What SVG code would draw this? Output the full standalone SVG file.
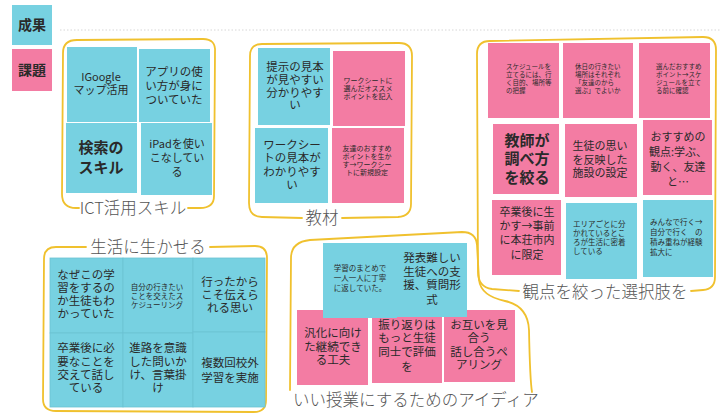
<svg xmlns="http://www.w3.org/2000/svg" width="720" height="416" viewBox="0 0 720 416">
<style>
.nb{fill:#77d1e1}
.np{fill:#f37ca3}
.cell{stroke:#6cc3d3;stroke-width:0.8}
.t{font-family:"Noto Sans CJK JP","Noto Sans",sans-serif;fill:#2a2a2a;text-anchor:middle}
.s{text-anchor:start}
.f65{font-size:6.5px}
.f7{font-size:7px}
.f75{font-size:7.5px}
.f11{font-size:11px}
.f115{font-size:11.5px}
.big{font-size:15px;font-weight:700}
.ol{fill:none;stroke:#f0c12e;stroke-width:1.8;stroke-linecap:round;stroke-linejoin:round}
.lbl{font-family:"Noto Sans CJK JP","Noto Sans",sans-serif;font-size:16.5px;fill:#555;font-weight:300}
</style>
<rect width="720" height="416" fill="#ffffff"/>
<line x1="60" y1="30" x2="720" y2="30" stroke="#d6d6d6" stroke-width="1" stroke-dasharray="1.5 2"/>

<g id="legend">
  <g id="legend-seika"><rect class="nb" x="12" y="5" width="40" height="40"/><text class="t" x="32" y="30" font-size="14" font-weight="700">成果</text></g>
  <g id="legend-kadai"><rect class="np" x="12" y="49" width="40" height="42"/><text class="t" x="32" y="75" font-size="14" font-weight="700">課題</text></g>
</g>

<g id="group-ict">
  <path class="ol" d="M 188,208 L 200,208 Q 214,208 214,196 L 215,52 Q 216,39 203,39 L 77,40 Q 63,40 63,53 L 62,194 Q 62,208 76,208 L 79,208"/>
  <text class="lbl" x="133" y="214" text-anchor="middle">ICT活用スキル</text>
  <g id="n-google"><rect class="nb" x="67" y="47" width="70" height="75"/><text class="t f11"><tspan x="101" y="81">IGoogle</tspan><tspan x="101" y="94">マップ活用</tspan></text></g>
  <g id="n-app"><rect class="nb" x="139" y="49" width="71" height="73"/><text class="t f115"><tspan x="174" y="76">アプリの使</tspan><tspan x="174" y="90">い方が身に</tspan><tspan x="174" y="104">ついていた</tspan></text></g>
  <g id="n-kensaku"><rect class="nb" x="66" y="123" width="71" height="70"/><text class="t big"><tspan x="101" y="153">検索の</tspan><tspan x="101" y="173">スキル</tspan></text></g>
  <g id="n-ipad"><rect class="nb" x="141" y="123" width="71" height="72"/><text class="t f11"><tspan x="177" y="148">iPadを使い</tspan><tspan x="177" y="162">こなしてい</tspan><tspan x="177" y="176">る</tspan></text></g>
</g>

<g id="group-kyozai">
  <path class="ol" d="M 342,218 L 398,217 Q 411,216 411,204 L 412,56 Q 412,43 399,43 L 262,44 Q 250,44 250,56 L 249,203 Q 249,217 262,217 L 302,218"/>
  <text class="lbl" x="322" y="224" text-anchor="middle">教材</text>
  <g id="n-teiji"><rect class="nb" x="258" y="48" width="72" height="77"/><text class="t f115"><tspan x="295" y="71">提示の見本</tspan><tspan x="295" y="84">が見やすい</tspan><tspan x="295" y="97">分かりやす</tspan><tspan x="295" y="109">い</tspan></text></g>
  <g id="n-ws-point"><rect class="np" x="333" y="51" width="72" height="75"/><text class="t f7"><tspan x="368" y="83">ワークシートに</tspan><tspan x="368" y="91">選んだオススメ</tspan><tspan x="368" y="99">ポイントを記入</tspan></text></g>
  <g id="n-ws-mihon"><rect class="nb" x="255" y="128" width="73" height="75"/><text class="t f115"><tspan x="292" y="149">ワークシー</tspan><tspan x="292" y="162">トの見本が</tspan><tspan x="292" y="176">わかりやす</tspan><tspan x="292" y="189">い</tspan></text></g>
  <g id="n-tomodachi"><rect class="np" x="332" y="128" width="72" height="75"/><text class="t f7"><tspan x="367" y="151">友達のおすすめ</tspan><tspan x="367" y="159">ポイントを生か</tspan><tspan x="367" y="167">す→ワークシー</tspan><tspan x="367" y="175">トに新規設定</tspan></text></g>
</g>

<g id="group-kanten">
  <path class="ol" d="M 691,291 L 703,290 Q 715,289 715,277 L 716,50 Q 716,37 703,37 L 490,41 Q 477,41 477,54 L 478,272 Q 478,287 492,289 L 519,291"/>
  <text class="lbl" x="605" y="298" text-anchor="middle">観点を絞った選択肢を</text>
  <g id="n-schedule"><rect class="np" x="488" y="43" width="71" height="75"/><text class="t s f65"><tspan x="506" y="68.5">スケジュールを</tspan><tspan x="506" y="76.5">立てるには、行</tspan><tspan x="506" y="84.5">く目的、場所等</tspan><tspan x="506" y="92.5">の把握</tspan></text></g>
  <g id="n-kyujitsu"><rect class="np" x="563" y="43" width="70" height="75"/><text class="t s f65"><tspan x="575" y="68.5">休日の行きたい</tspan><tspan x="575" y="76.5">場所はそれぞれ</tspan><tspan x="575" y="84.5">「友達のから</tspan><tspan x="575" y="92.5">選ぶ」でよいか</tspan></text></g>
  <g id="n-eranda"><rect class="np" x="639" y="43" width="71" height="75"/><text class="t s f65"><tspan x="656" y="68.5">選んだおすすめ</tspan><tspan x="656" y="76.5">ポイント→スケ</tspan><tspan x="656" y="84.5">ジュールを立て</tspan><tspan x="656" y="92.5">る前に確認</tspan></text></g>
  <g id="n-kyoshi"><rect class="np" x="493" y="124" width="66" height="70"/><text class="t big"><tspan x="527" y="146">教師が</tspan><tspan x="527" y="164">調べ方</tspan><tspan x="527" y="183">を絞る</tspan></text></g>
  <g id="n-seito-omoi"><rect class="np" x="565" y="124" width="72" height="73"/><text class="t f11"><tspan x="600" y="150">生徒の思い</tspan><tspan x="600" y="164">を反映した</tspan><tspan x="600" y="177">施設の設定</tspan></text></g>
  <g id="n-osusume"><rect class="np" x="643" y="120" width="69" height="75"/><text class="t f11"><tspan x="678" y="141">おすすめの</tspan><tspan x="678" y="156">観点:学ぶ、</tspan><tspan x="678" y="171">動く、友達</tspan><tspan x="678" y="186">と…</tspan></text></g>
  <g id="n-sotsugyo-ikasu"><rect class="np" x="492" y="200" width="69" height="75"/><text class="t f11"><tspan x="527" y="216">卒業後に生</tspan><tspan x="527" y="230">かす→事前</tspan><tspan x="527" y="244">に本荘市内</tspan><tspan x="527" y="259">に限定</tspan></text></g>
  <g id="n-area"><rect class="nb" x="566" y="203" width="71" height="76"/><text class="t s f75"><tspan x="573" y="227">エリアごとに分</tspan><tspan x="573" y="236">かれているとこ</tspan><tspan x="573" y="245">ろが生活に密着</tspan><tspan x="573" y="254">している</tspan></text></g>
  <g id="n-minna"><rect class="nb" x="643" y="200" width="70" height="77"/><text class="t s f75"><tspan x="650" y="225">みんなで行く→</tspan><tspan x="650" y="235">自分で行く　の</tspan><tspan x="650" y="245">積み重ねが経験</tspan><tspan x="650" y="255">拡大に</tspan></text></g>
</g>

<g id="group-seikatsu">
  <path class="ol" d="M 210,247 L 255,246 Q 267,246 267,258 L 266,400 Q 266,412 254,412 L 56,411 Q 43,411 43,399 L 44,259 Q 44,247 56,247 L 86,247"/>
  <text class="lbl" x="148" y="253" text-anchor="middle">生活に生かせる</text>
  <g id="n-naze"><rect class="nb cell" x="50" y="258" width="73" height="75"/><text class="t f115"><tspan x="86" y="279">なぜこの学</tspan><tspan x="86" y="292">習をするの</tspan><tspan x="86" y="305">か生徒もわ</tspan><tspan x="86" y="318">かっていた</tspan></text></g>
  <g id="n-jibun"><rect class="nb cell" x="123" y="258" width="70" height="75"/><text class="t f75"><tspan x="157" y="290">自分の行きたい</tspan><tspan x="157" y="299">ことを交えたス</tspan><tspan x="157" y="308">ケジューリング</tspan></text></g>
  <g id="n-ittakara"><rect class="nb cell" x="193" y="258" width="72" height="74"/><text class="t f115"><tspan x="230" y="286">行ったから</tspan><tspan x="230" y="299">こそ伝えら</tspan><tspan x="230" y="312">れる思い</tspan></text></g>
  <g id="n-sotsugyo-hitsuyo"><rect class="nb cell" x="50" y="333" width="73" height="74"/><text class="t f115"><tspan x="86" y="352">卒業後に必</tspan><tspan x="86" y="366">要なことを</tspan><tspan x="86" y="379">交えて話し</tspan><tspan x="86" y="392">ている</tspan></text></g>
  <g id="n-shinro"><rect class="nb cell" x="123" y="333" width="70" height="74"/><text class="t f115"><tspan x="158" y="352">進路を意識</tspan><tspan x="158" y="366">した問いか</tspan><tspan x="158" y="379">け、言葉掛</tspan><tspan x="158" y="392">け</tspan></text></g>
  <g id="n-fukusu"><rect class="nb cell" x="193" y="332" width="72" height="75"/><text class="t f115"><tspan x="230" y="367">複数回校外</tspan><tspan x="230" y="382">学習を実施</tspan></text></g>
</g>

<g id="group-iijugyo">
  <path class="ol" d="M 532,392 Q 530,380 529,330 Q 528,306 505,301 Q 481,296 479,280 L 477,245 Q 476,232 462,232 L 310,240 Q 291,242 291,258 L 290,390"/>
  <text class="lbl" x="293" y="406">いい授業にするためのアイディア</text>
  <g id="n-hanka"><rect class="np" x="297" y="310" width="71" height="75"/><text class="t f115"><tspan x="333" y="337">汎化に向け</tspan><tspan x="333" y="351">た継続でき</tspan><tspan x="333" y="364">る工夫</tspan></text></g>
  <g id="n-furikaeri"><rect class="np" x="372" y="312" width="70" height="71"/><text class="t f115"><tspan x="407" y="329">振り返りは</tspan><tspan x="407" y="342">もっと生徒</tspan><tspan x="407" y="356">同士で評価</tspan><tspan x="407" y="371">を</tspan></text></g>
  <g id="n-otagai"><rect class="np" x="444" y="310" width="71" height="72"/><text class="t f115"><tspan x="479" y="329">お互いを見</tspan><tspan x="479" y="342">合う</tspan><tspan x="479" y="356">話し合うペ</tspan><tspan x="479" y="369">アリング</tspan></text></g>
  <g id="n-matome"><rect class="nb" x="323" y="243" width="74" height="75"/><text class="t f75"><tspan x="360" y="271">学習のまとめで</tspan><tspan x="360" y="281">一人一人に丁寧</tspan><tspan x="360" y="291">に返していた。</tspan></text></g>
  <g id="n-happyo"><rect class="nb" x="397" y="243" width="70" height="74"/><text class="t f115"><tspan x="432" y="262">発表難しい</tspan><tspan x="432" y="276">生徒への支</tspan><tspan x="432" y="289">援、質問形</tspan><tspan x="432" y="304">式</tspan></text></g>
</g>

<g id="connectors"></g>
</svg>
